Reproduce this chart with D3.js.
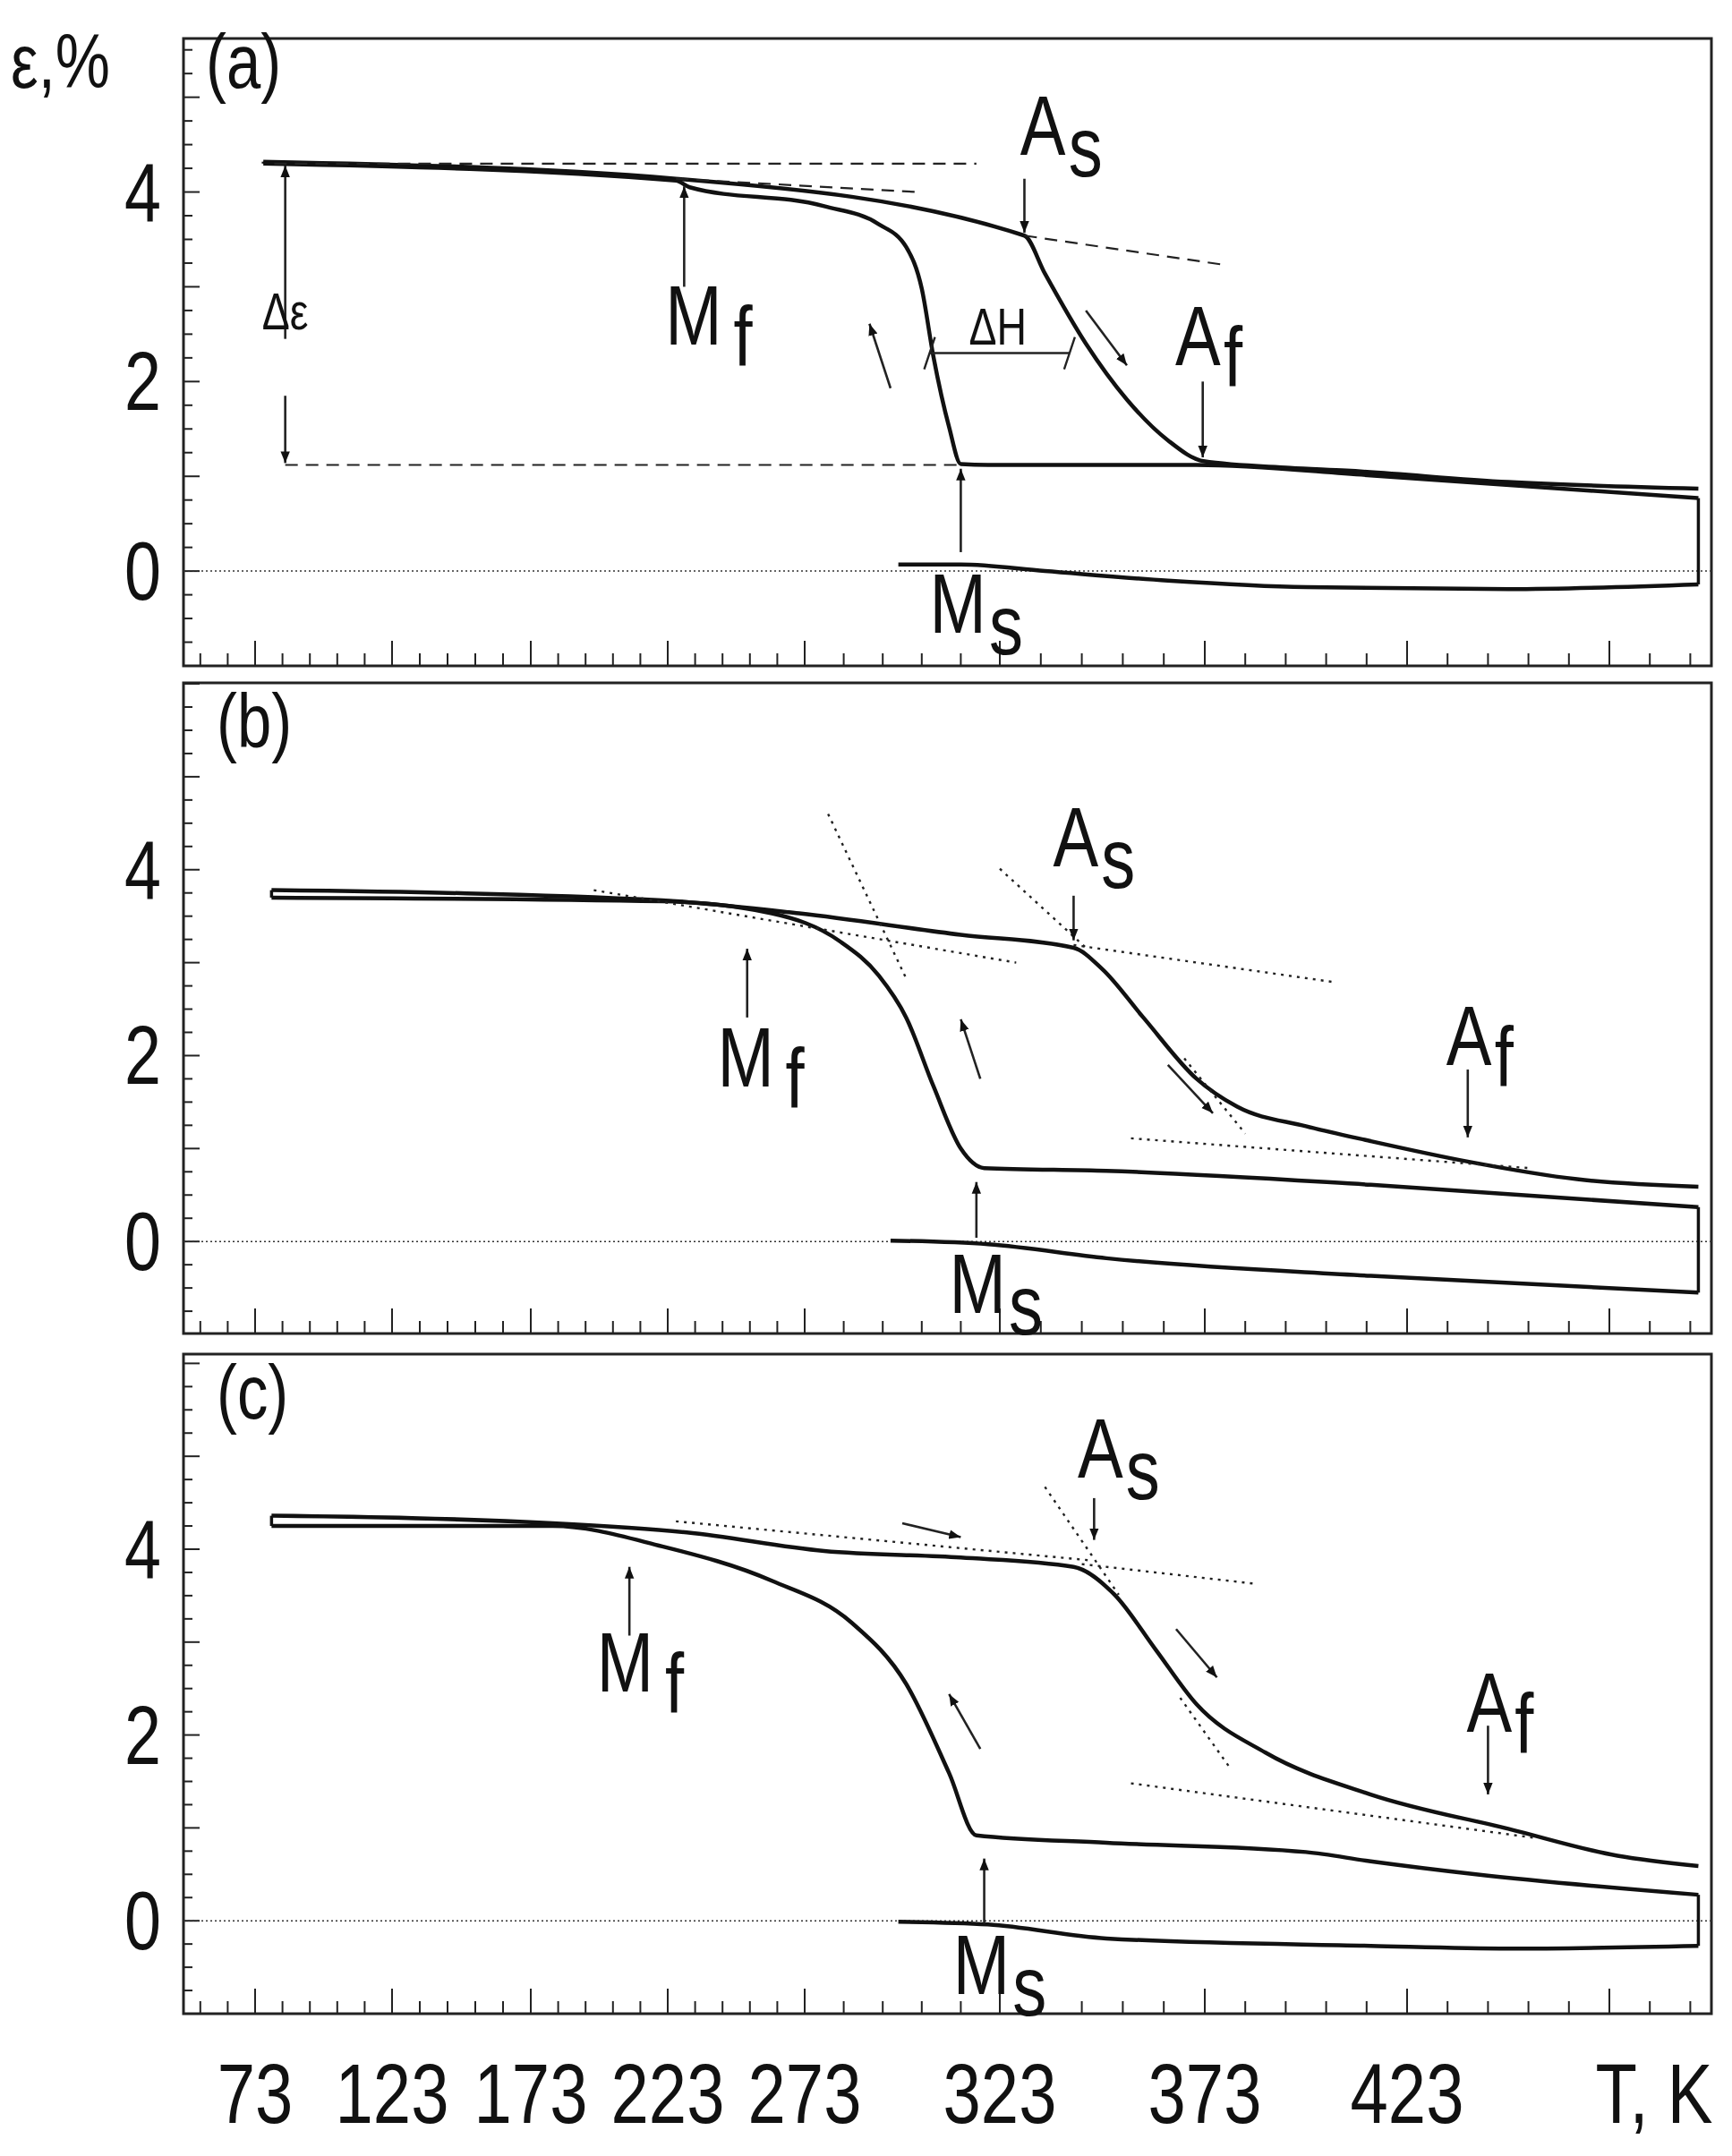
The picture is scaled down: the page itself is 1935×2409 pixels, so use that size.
<!DOCTYPE html>
<html>
<head>
<script src="https://cdnjs.cloudflare.com/ajax/libs/d3/7.8.5/d3.min.js"></script>
<style>
  body { margin: 0; background: #fff; }
  text { font-family: "Liberation Sans", Arial, sans-serif; fill: #111; }
</style>
</head>
<body>
<script>
// temperature axis (broken scale: spacing changes after 273 K)
const xTicks = [73, 123, 173, 223, 273, 323, 373, 423, 473];
const xTickPx = [285, 438, 593, 746, 899, 1117, 1346, 1572, 1798];
const xTickLabels = ["73", "123", "173", "223", "273", "323", "373", "423", ""];

// panel (a)
const aHeat = [[76,4.32],[226,4.14],[329,3.54],[334,3.14],[344,2.4],[354,1.81],[364,1.38],[372.7,1.16],[394,1.09],[408,1.06],[448,0.94],[495,0.87]];
const aCool = [[76,4.30],[226,4.12],[231,4.05],[278,3.85],[292,3.66],[299,3.42],[303,2.98],[306,2.26],[310,1.52],[313,1.13],[320,1.12],[371,1.12],[414,1.01],[495,0.77]];
const aBase = [[297,0.07],[313,0.07],[334,0],[364,-0.1],[398,-0.17],[448,-0.19],[495,-0.14]];
// panel (b)
const bHeat = [[79,3.78],[221,3.67],[271,3.53],[313,3.3],[341,3.16],[348,2.93],[358,2.41],[371,1.75],[381,1.45],[398,1.24],[414,1.08],[438,0.86],[465,0.67],[495,0.59]];
const bCool = [[79,3.70],[221,3.66],[261,3.53],[282,3.23],[292,2.86],[299,2.41],[306,1.67],[313,1.0],[319,0.79],[349,0.76],[414,0.61],[495,0.37]];
const bBase = [[295,0.01],[320,-0.03],[349,-0.18],[414,-0.37],[495,-0.55]];
// panel (c)
const cHeat = [[79,4.36],[181,4.28],[230,4.18],[278,3.98],[313,3.91],[341,3.81],[351,3.51],[361,2.92],[371,2.33],[388,1.81],[414,1.36],[448,0.99],[475,0.7],[495,0.59]];
const cCool = [[79,4.25],[181,4.25],[221,4.03],[261,3.66],[285,3.21],[299,2.55],[310,1.59],[317,0.92],[349,0.84],[398,0.74],[414,0.64],[440,0.5],[495,0.28]];
const cBase = [[297,-0.01],[320,-0.04],[349,-0.19],[414,-0.27],[448,-0.3],[495,-0.27]];

const panels = [
  { id: "(a)", top: 43, bottom: 744, yDom: [-1.0, 5.62], curves: [aHeat, aCool, aBase],
    dashed: [[80,4.3,317,4.3],[226,4.14,302,4.0],[329,3.54,378,3.23],[84,1.12,313,1.12]], dotted: [],
    arrows: [[84,2.45,84,4.28],[84,1.85,84,1.14],[229,3.0,229,4.06],[329,4.14,329,3.57],[372.5,2.0,372.5,1.2],[313,0.2,313,1.08],[295,1.93,289.6,2.61],[344,2.75,354,2.17]],
    labels: [[238,2.39,"M","f"],[338,4.39,"A","s"],[374,2.17,"A","f"],[317,-0.65,"M","s"]],
    dH: [305,340,2.3] },
  { id: "(b)", top: 763, bottom: 1490, yDom: [-0.99, 6.01], curves: [bHeat, bCool, bBase],
    dashed: [],
    dotted: [[196,3.78,327,3.0],[279,4.6,299,2.83],[323,4.01,344,3.16],[341,3.19,405,2.79],[368,1.97,383,1.16],[355,1.11,453,0.79]],
    arrows: [[341,3.72,341,3.24],[252,2.41,252,3.15],[438,1.85,438,1.12],[317,0.04,317,0.64],[318,1.75,313,2.39],[364,1.9,375,1.38]],
    labels: [[257,1.67,"M","f"],[346,4.04,"A","s"],[441,1.9,"A","f"],[322,-0.77,"M","s"]] },
  { id: "(c)", top: 1513, bottom: 2250, yDom: [-1.0, 6.1], curves: [cHeat, cCool, cBase],
    dashed: [],
    dotted: [[226,4.3,345,3.88],[334,4.67,352,3.51],[343,3.84,385,3.63],[367,2.4,379,1.66],[355,1.48,455,0.89]],
    arrows: [[346,4.55,346,4.1],[209,3.07,209,3.81],[443,2.1,443,1.36],[319,-0.03,319,0.67],[298,4.28,313,4.13],[318,1.85,310,2.44],[366,3.14,376,2.62]],
    labels: [[213,2.47,"M","f"],[352,4.77,"A","s"],[446,2.03,"A","f"],[323,-0.79,"M","s"]] }
];

const W = 1935, H = 2409, L = 205, R = 1912;
const svg = d3.select("body").append("svg").attr("width", W).attr("height", H);
svg.append("defs").append("marker").attr("id", "ah")
  .attr("viewBox", "0 0 10 10").attr("refX", 10).attr("refY", 5)
  .attr("markerWidth", 5).attr("markerHeight", 5).attr("orient", "auto-start-reverse")
  .append("path").attr("d", "M0,1 L10,5 L0,9 Z").attr("fill", "#111");

// narrow text: squeeze horizontally like the condensed face in the original
function narrow(sel, px, py, size, anchor) {
  return sel.append("g").attr("transform", `translate(${px},${py}) scale(0.8,1)`)
    .append("text").attr("text-anchor", anchor || "middle").attr("font-size", size);
}

const x = d3.scaleLinear().domain(xTicks).range(xTickPx);
const minorX = d3.range(43, 500, 10);

panels.forEach((p, pi) => {
  const y = d3.scaleLinear().domain(p.yDom).range([p.bottom, p.top]);
  const g = svg.append("g");
  g.append("rect").attr("x", L).attr("y", p.top).attr("width", R - L).attr("height", p.bottom - p.top)
    .attr("fill", "none").attr("stroke", "#222").attr("stroke-width", 3);

  g.selectAll(".mx").data(minorX.filter(t => x(t) > L + 2 && x(t) < R - 2)).join("line")
    .attr("x1", d => x(d)).attr("x2", d => x(d)).attr("y1", p.bottom)
    .attr("y2", d => p.bottom - (xTicks.includes(d) ? 28 : 14)).attr("stroke", "#222").attr("stroke-width", 2);
  const yMinor = d3.range(Math.ceil(p.yDom[0] * 4) / 4, p.yDom[1], 0.25);
  g.selectAll(".my").data(yMinor).join("line")
    .attr("x1", L).attr("x2", d => L + (Math.abs(d - Math.round(d)) < 1e-6 ? 18 : 10))
    .attr("y1", d => y(d)).attr("y2", d => y(d)).attr("stroke", "#222").attr("stroke-width", 2);
  [0, 2, 4].forEach(d => narrow(g, 180, y(d) + 32, 92, "end").text(d));

  g.append("line").attr("x1", L).attr("x2", R).attr("y1", y(0)).attr("y2", y(0))
    .attr("stroke", "#333").attr("stroke-width", 1.5).attr("stroke-dasharray", "2,3");

  const line = d3.line().x(d => x(d[0])).y(d => y(d[1])).curve(d3.curveMonotoneX);
  p.curves.forEach(c => g.append("path").attr("d", line(c)).attr("fill", "none")
    .attr("stroke", "#111").attr("stroke-width", 4.5));
  const [hc, cc, bc] = p.curves;
  [[hc[0], cc[0]], [cc[cc.length - 1], bc[bc.length - 1]]].forEach(([a, b]) =>
    g.append("line").attr("x1", x(a[0])).attr("x2", x(b[0])).attr("y1", y(a[1])).attr("y2", y(b[1]))
      .attr("stroke", "#111").attr("stroke-width", 3.5));

  const seg = (arr, dash, w) => g.selectAll(null).data(arr).join("line")
    .attr("x1", d => x(d[0])).attr("y1", d => y(d[1])).attr("x2", d => x(d[2])).attr("y2", d => y(d[3]))
    .attr("stroke", "#222").attr("stroke-width", w).attr("stroke-dasharray", dash);
  seg(p.dashed, "14,9", 2.2);
  seg(p.dotted, "3,6", 2.4);
  seg(p.arrows, null, 2.6).attr("marker-end", "url(#ah)");

  p.labels.forEach(([t, e, m, s]) => {
    const tx = narrow(g, x(t), y(e), 95);
    tx.append("tspan").text(m);
    tx.append("tspan").attr("dx", m === "M" && s === "f" ? 16 : 4).attr("dy", 24).text(s);
  });

  if (p.dH) {
    const [t1, t2, e] = p.dH;
    g.append("line").attr("x1", x(t1)).attr("x2", x(t2)).attr("y1", y(e)).attr("y2", y(e)).attr("stroke", "#222").attr("stroke-width", 2.4);
    [t1, t2].forEach(t => g.append("line").attr("x1", x(t) - 6).attr("x2", x(t) + 6)
      .attr("y1", y(e) + 18).attr("y2", y(e) - 18).attr("stroke", "#222").attr("stroke-width", 2.4));
    narrow(g, x((t1 + t2) / 2), y(e) - 10, 58).text("ΔH");
    narrow(g, x(84), y(2.55), 58).text("Δε");
  }

  narrow(g, pi === 0 ? 230 : 242, p.top + (pi === 0 ? 55 : 72), 86, "start").text(p.id);
});

narrow(svg, 12, 98, 86, "start").text("ε,%");

xTicks.forEach((d, i) => { if (xTickLabels[i]) narrow(svg, x(d), 2372, 95).text(xTickLabels[i]); });
narrow(svg, 1848, 2372, 95).text("T, K");
</script>
</body>
</html>
